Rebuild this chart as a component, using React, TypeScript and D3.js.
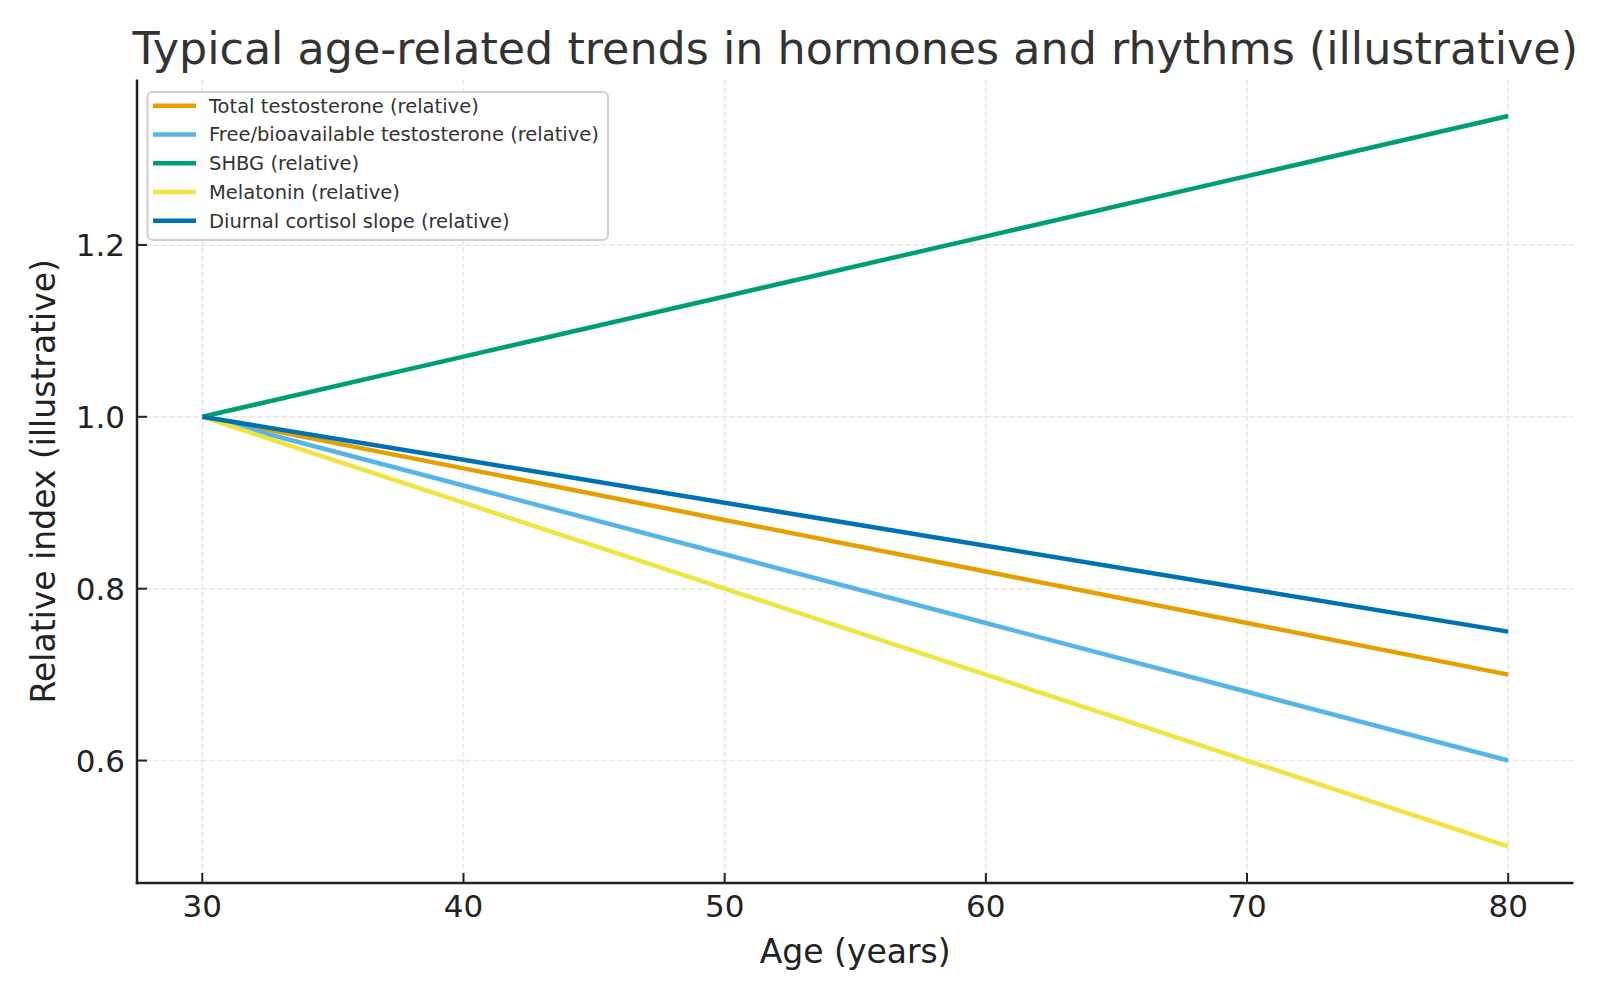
import React, { useMemo } from 'react';
import * as d3 from 'd3';

// Ages sampled once per decade
const ages = [30, 40, 50, 60, 70, 80];

const totalTestosterone = [1.0, 0.94, 0.88, 0.82, 0.76, 0.7];
const freeTestosterone = [1.0, 0.92, 0.84, 0.76, 0.68, 0.6];
const shbg = [1.0, 1.07, 1.14, 1.21, 1.28, 1.35];
const melatonin = [1.0, 0.9, 0.8, 0.7, 0.6, 0.5];
const cortisolSlope = [1.0, 0.95, 0.9, 0.85, 0.8, 0.75];

const seriesNames = [
  'Total testosterone (relative)',
  'Free/bioavailable testosterone (relative)',
  'SHBG (relative)',
  'Melatonin (relative)',
  'Diurnal cortisol slope (relative)',
];
const seriesColors = ['#E69F00', '#56B4E9', '#009E73', '#F0E442', '#0072B2'];

const xTicks = [30, 40, 50, 60, 70, 80];
const yTicks = [0.6, 0.8, 1.0, 1.2];

const W = 1600;
const H = 1000;
const plot = { left: 137, right: 1573.5, top: 79.5, bottom: 883 };

export default function App() {
  const allSeries = [totalTestosterone, freeTestosterone, shbg, melatonin, cortisolSlope];

  const x = useMemo(() => {
    const [lo, hi] = d3.extent(ages) as [number, number];
    const pad = (hi - lo) * 0.05;
    return d3.scaleLinear().domain([lo - pad, hi + pad]).range([plot.left, plot.right]);
  }, []);

  const y = useMemo(() => {
    const all = allSeries.flat();
    const lo = d3.min(all) as number;
    const hi = d3.max(all) as number;
    const pad = (hi - lo) * 0.05;
    return d3.scaleLinear().domain([lo - pad, hi + pad]).range([plot.bottom, plot.top]);
  }, []);

  const line = d3
    .line<number>()
    .x((_, i) => x(ages[i]))
    .y((d) => y(d));

  const legend = { x: 147.5, y: 92, w: 460.5, h: 148, rowGap: 28.75 };

  return (
    <svg
      width={W}
      height={H}
      viewBox={`0 0 ${W} ${H}`}
      style={{ position: 'absolute', left: 0, top: 0, background: '#fff' }}
      fontFamily="'DejaVu Sans', sans-serif"
    >
      <rect width={W} height={H} fill="#fff" />

      {/* grid */}
      <g stroke="#e6e6e6" strokeWidth={1.5} strokeDasharray="5.5,2.5">
        {xTicks.map((t) => (
          <line key={`gx${t}`} x1={x(t)} x2={x(t)} y1={plot.top} y2={plot.bottom} />
        ))}
        {yTicks.map((t) => (
          <line key={`gy${t}`} x1={plot.left} x2={plot.right} y1={y(t)} y2={y(t)} />
        ))}
      </g>

      {/* series */}
      {allSeries.map((s, i) => (
        <path
          key={seriesNames[i]}
          d={line(s) || ''}
          fill="none"
          stroke={seriesColors[i]}
          strokeWidth={4.5}
          strokeLinejoin="round"
        />
      ))}

      {/* spines */}
      <line x1={plot.left} x2={plot.left} y1={plot.top} y2={plot.bottom + 1.25} stroke="#222" strokeWidth={2.5} />
      <line x1={plot.left - 1.25} x2={plot.right} y1={plot.bottom} y2={plot.bottom} stroke="#222" strokeWidth={2.5} />

      {/* x ticks */}
      {xTicks.map((t) => (
        <g key={`xt${t}`}>
          <line x1={x(t)} x2={x(t)} y1={plot.bottom} y2={plot.bottom - 10} stroke="#222" strokeWidth={2} />
          <text x={x(t)} y={917} textAnchor="middle" fontSize={31} fill="#222">
            {t}
          </text>
        </g>
      ))}

      {/* y ticks */}
      {yTicks.map((t) => (
        <g key={`yt${t}`}>
          <line x1={plot.left} x2={plot.left + 10} y1={y(t)} y2={y(t)} stroke="#222" strokeWidth={2} />
          <text x={125} y={y(t)} dy="0.36em" textAnchor="end" fontSize={31} fill="#222">
            {t.toFixed(1)}
          </text>
        </g>
      ))}

      {/* axis labels */}
      <text x={(plot.left + plot.right) / 2} y={963} textAnchor="middle" fontSize={33} fill="#222">
        Age (years)
      </text>
      <text
        transform={`translate(55, ${(plot.top + plot.bottom) / 2}) rotate(-90)`}
        textAnchor="middle"
        fontSize={33}
        fill="#222"
      >
        Relative index (illustrative)
      </text>

      {/* title */}
      <text x={(plot.left + plot.right) / 2} y={64} textAnchor="middle" fontSize={44.4} fill="#333">
        Typical age-related trends in hormones and rhythms (illustrative)
      </text>

      {/* legend */}
      <g>
        <rect
          x={legend.x}
          y={legend.y}
          width={legend.w}
          height={legend.h}
          rx={5}
          fill="#fff"
          fillOpacity={0.8}
          stroke="#d0d0d0"
          strokeWidth={2}
        />
        {seriesNames.map((name, i) => {
          const cy = 105.7 + i * legend.rowGap;
          return (
            <g key={`lg${name}`}>
              <line x1={153} x2={196} y1={cy} y2={cy} stroke={seriesColors[i]} strokeWidth={4.5} />
              <text x={209} y={cy} dy="0.36em" fontSize={19.5} fill="#333">
                {name}
              </text>
            </g>
          );
        })}
      </g>
    </svg>
  );
}
